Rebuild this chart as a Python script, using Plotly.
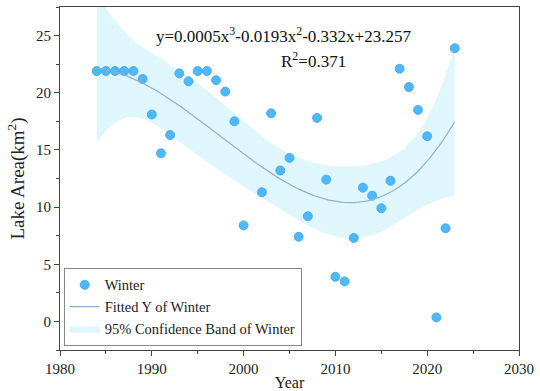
import numpy as np
import plotly.graph_objects as go

years = list(range(1984, 2024))
area = [21.9, 21.9, 21.9, 21.9, 21.9, 21.2, 18.1, 14.7, 16.3, 21.7,
        21.0, 21.9, 21.9, 21.1, 20.1, 17.5, 8.4, 1.1, 11.3, 18.2,
        13.2, 14.3, 7.4, 9.2, 17.8, 12.4, 3.9, 3.5, 7.3, 11.7,
        11.0, 9.9, 12.3, 22.1, 20.5, 18.5, 16.2, 0.35, 8.15, 23.9]
eq_text = "y=0.0005x<sup>3</sup>-0.0193x<sup>2</sup>-0.332x+23.257"
r2_text = "R<sup>2</sup>=0.371"
x_ticks = [1980, 1990, 2000, 2010, 2020, 2030]
y_ticks = [0, 5, 10, 15, 20, 25]

# cubic fit with 95% confidence band of the mean
x = np.array(years, dtype=float) - 1983
y = np.array(area)
X = np.vstack([x**3, x**2, x, np.ones_like(x)]).T
beta, *_ = np.linalg.lstsq(X, y, rcond=None)
n, p = X.shape
resid = y - X @ beta
s2 = resid @ resid / (n - p)
XtXi = np.linalg.inv(X.T @ X)
xf = np.linspace(x.min(), x.max(), 200)
Xf = np.vstack([xf**3, xf**2, xf, np.ones_like(xf)]).T
yf = Xf @ beta
se = np.sqrt(np.einsum('ij,jk,ik->i', Xf, XtXi, Xf) * s2)
tval = 2.028
lo = yf - tval * se
hi = yf + tval * se
xf_year = xf + 1983

font = "Liberation Serif"
fig = go.Figure()
fig.add_trace(go.Scatter(
    x=np.concatenate([xf_year, xf_year[::-1]]),
    y=np.concatenate([hi, lo[::-1]]),
    fill="toself", fillcolor="#e0f6fd", line=dict(width=0, color="#e0f6fd"),
    mode="lines", name="95% Confidence Band of Winter"))
fig.add_trace(go.Scatter(x=years, y=area, mode="markers", name="Winter",
                         marker=dict(size=9, color="#4fb8fb",
                                     line=dict(width=0.8, color="#39a4ee"))))
fig.add_trace(go.Scatter(x=xf_year, y=yf, mode="lines", name="Fitted Y of Winter",
                         line=dict(color="#8fb0cc", width=1.2)))

fig.add_annotation(x=0.486, y=0.955, xref="paper", yref="paper", text=eq_text,
                   showarrow=False, font=dict(family=font, size=17, color="#111"))
fig.add_annotation(x=0.553, y=0.882, xref="paper", yref="paper", text=r2_text,
                   showarrow=False, font=dict(family=font, size=17, color="#111"))

axis_common = dict(showline=True, linecolor="#444", linewidth=1.2, mirror=True,
                   ticks="outside", ticklen=5, tickcolor="#444", showgrid=False,
                   zeroline=False, automargin=False,
                   tickfont=dict(family=font, size=15, color="#222"))
fig.update_xaxes(range=[1980, 2030], tickvals=x_ticks,
                 minor=dict(ticks="outside", ticklen=3, dtick=5, tickcolor="#444"),
                 title=dict(text="Year", font=dict(family=font, size=16, color="#222"), standoff=4),
                 **axis_common)
fig.update_yaxes(range=[-2.5, 27.5], tickvals=y_ticks,
                 minor=dict(ticks="outside", ticklen=3, dtick=2.5, tickcolor="#444"),
                 title=dict(text="Lake Area(km<sup>2</sup>)", font=dict(family=font, size=19, color="#222"), standoff=6),
                 **axis_common)
fig.update_layout(
    width=540, height=391, margin=dict(l=60, r=21, t=7, b=41),
    paper_bgcolor="white", plot_bgcolor="white",
    legend=dict(x=0.008, y=0.012, xanchor="left", yanchor="bottom",
                bgcolor="white", bordercolor="#888", borderwidth=1,
                font=dict(family=font, size=14.5, color="#222"),
                traceorder="normal", itemwidth=30, tracegroupgap=0),
)
# legend order: Winter, Fitted, Band
fig.data[1].legendrank = 1
fig.data[2].legendrank = 2
fig.data[0].legendrank = 3
fig.write_html("out.html")
